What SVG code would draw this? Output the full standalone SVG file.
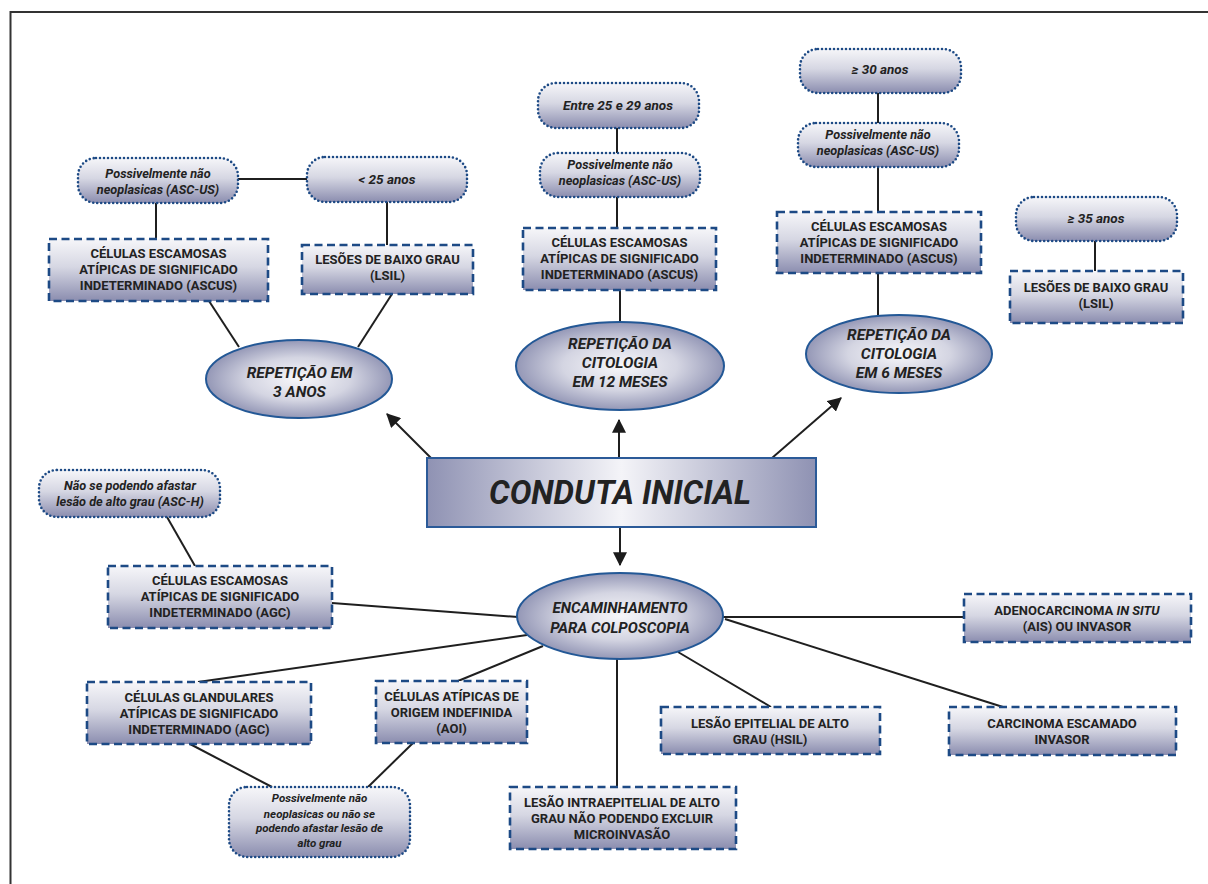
<svg xmlns="http://www.w3.org/2000/svg" width="1208" height="884" viewBox="0 0 1208 884">
<defs>
<linearGradient id="gv" x1="0" y1="0" x2="0" y2="1">
<stop offset="0" stop-color="#f6f6f9"/>
<stop offset="0.45" stop-color="#d6d7e3"/>
<stop offset="1" stop-color="#8b8daf"/>
</linearGradient>
<linearGradient id="gh" x1="0" y1="0" x2="1" y2="0">
<stop offset="0" stop-color="#8f92b3"/>
<stop offset="0.5" stop-color="#f4f4f8"/>
<stop offset="1" stop-color="#8f92b3"/>
</linearGradient>
<radialGradient id="gr" cx="0.5" cy="0.5" r="0.5">
<stop offset="0" stop-color="#f7f7fa"/>
<stop offset="0.55" stop-color="#d4d5e2"/>
<stop offset="1" stop-color="#9497b6"/>
</radialGradient>
<marker id="ah" viewBox="0 0 12 12" refX="11" refY="6" markerWidth="14" markerHeight="14" markerUnits="userSpaceOnUse" orient="auto">
<path d="M0,0 L12,6 L0,12 z" fill="#1c1c1c"/>
</marker>
<style>
.box{fill:url(#gv);stroke:#1d4a85;stroke-width:2.6;stroke-dasharray:8 4.5}
.pill{fill:url(#gv);stroke:#1d4a85;stroke-width:2.6;stroke-dasharray:0 4;stroke-linecap:round}
.ell{fill:url(#gr);stroke:#235896;stroke-width:2}
.main{fill:url(#gh);stroke:#2b5a98;stroke-width:2}
.ln{stroke:#1f1f1f;stroke-width:2;fill:none}
.arr{stroke:#1f1f1f;stroke-width:2;fill:none;marker-end:url(#ah)}
text{font-family:Roboto,"Liberation Sans",sans-serif;fill:#222;text-anchor:middle}
.tb{font-weight:bold;font-size:13px}
.ti{font-weight:bold;font-style:italic;font-size:12.7px}
.ta{font-weight:bold;font-style:italic;font-size:13.5px}
.ts{font-weight:bold;font-style:italic;font-size:11.5px}
.te{font-weight:bold;font-style:italic;font-size:15.5px}
.tm{font-weight:bold;font-style:italic;font-size:32.5px}
</style>
</defs>
<rect x="0" y="0" width="1208" height="884" fill="#ffffff"/>
<path d="M1210,12 H10.5 V886" fill="none" stroke="#333" stroke-width="2"/>

<g id="connectors">
<line class="ln" x1="238" y1="179" x2="307" y2="179"/>
<line class="ln" x1="156" y1="203" x2="156" y2="239"/>
<line class="ln" x1="387" y1="202" x2="387" y2="245"/>
<line class="ln" x1="209" y1="301" x2="239" y2="347"/>
<line class="ln" x1="392" y1="294" x2="358" y2="347"/>
<line class="ln" x1="617" y1="128" x2="617" y2="153"/>
<line class="ln" x1="617" y1="197" x2="617" y2="228"/>
<line class="ln" x1="620" y1="290" x2="620" y2="323"/>
<line class="ln" x1="878" y1="93" x2="878" y2="123"/>
<line class="ln" x1="878" y1="167" x2="878" y2="212"/>
<line class="ln" x1="878" y1="273" x2="878" y2="316"/>
<line class="ln" x1="1095" y1="241" x2="1095" y2="271"/>
<line class="arr" x1="431" y1="458" x2="387" y2="414"/>
<line class="arr" x1="619" y1="458" x2="619" y2="420"/>
<line class="arr" x1="772" y1="458" x2="841" y2="398"/>
<line class="arr" x1="620" y1="527" x2="620" y2="565"/>
<line class="ln" x1="167" y1="517" x2="195" y2="566"/>
<line class="ln" x1="332" y1="603" x2="518" y2="617"/>
<line class="ln" x1="527" y1="635" x2="198" y2="682"/>
<line class="ln" x1="543" y1="646" x2="458" y2="681"/>
<line class="ln" x1="190" y1="744" x2="272" y2="787"/>
<line class="ln" x1="413" y1="743" x2="368" y2="787"/>
<line class="ln" x1="617" y1="659" x2="617" y2="787"/>
<line class="ln" x1="678" y1="652" x2="771" y2="707"/>
<line class="ln" x1="723" y1="617" x2="964" y2="617"/>
<line class="ln" x1="725" y1="619" x2="1003" y2="707"/>
</g>

<g id="n-ascus-young">
<rect class="pill" x="78" y="158" width="160" height="45" rx="18"/>
<text class="ti" x="158" y="177.5">Possivelmente não</text>
<text class="ti" x="158" y="193.5">neoplasicas (ASC-US)</text>
</g>
<g id="n-lt25">
<rect class="pill" x="307" y="157" width="160" height="45" rx="18"/>
<text class="ta" x="387" y="184">&lt; 25 anos</text>
</g>
<g id="n-ascus-left">
<rect class="box" x="49" y="239" width="219" height="62"/>
<text class="tb" x="158.5" y="258">CÉLULAS ESCAMOSAS</text>
<text class="tb" x="158.5" y="274">ATÍPICAS DE SIGNIFICADO</text>
<text class="tb" x="158.5" y="290">INDETERMINADO (ASCUS)</text>
</g>
<g id="n-lsil-left">
<rect class="box" x="302" y="245" width="171" height="49"/>
<text class="tb" x="387.5" y="264">LESÕES DE BAIXO GRAU</text>
<text class="tb" x="387.5" y="280">(LSIL)</text>
</g>
<g id="n-rep3">
<ellipse class="ell" cx="299" cy="379" rx="93" ry="39"/>
<text class="te" x="299.5" y="377.5">REPETIÇÃO EM</text>
<text class="te" x="299.5" y="396.5">3 ANOS</text>
</g>

<g id="n-25-29">
<rect class="pill" x="538" y="83" width="161" height="45" rx="18"/>
<text class="ta" x="618" y="110">Entre 25 e 29 anos</text>
</g>
<g id="n-ascus-mid-pill">
<rect class="pill" x="540" y="153" width="160" height="44" rx="18"/>
<text class="ti" x="620" y="169">Possivelmente não</text>
<text class="ti" x="620" y="185">neoplasicas (ASC-US)</text>
</g>
<g id="n-ascus-mid">
<rect class="box" x="523" y="228" width="193" height="62"/>
<text class="tb" x="619.5" y="246.5">CÉLULAS ESCAMOSAS</text>
<text class="tb" x="619.5" y="262.5">ATÍPICAS DE SIGNIFICADO</text>
<text class="tb" x="619.5" y="278.5">INDETERMINADO (ASCUS)</text>
</g>
<g id="n-rep12">
<ellipse class="ell" cx="620" cy="366" rx="104" ry="44"/>
<text class="te" x="620" y="348.5">REPETIÇÃO DA</text>
<text class="te" x="620" y="367.5">CITOLOGIA</text>
<text class="te" x="620" y="386.5">EM 12 MESES</text>
</g>

<g id="n-ge30">
<rect class="pill" x="800" y="49" width="161" height="44" rx="18"/>
<text class="ta" x="880" y="74">≥ 30 anos</text>
</g>
<g id="n-ascus-right-pill">
<rect class="pill" x="798" y="123" width="161" height="44" rx="18"/>
<text class="ti" x="878" y="138.5">Possivelmente não</text>
<text class="ti" x="878" y="154.5">neoplasicas (ASC-US)</text>
</g>
<g id="n-ascus-right">
<rect class="box" x="777" y="212" width="204" height="61"/>
<text class="tb" x="879" y="230.5">CÉLULAS ESCAMOSAS</text>
<text class="tb" x="879" y="246.5">ATÍPICAS DE SIGNIFICADO</text>
<text class="tb" x="879" y="262.5">INDETERMINADO (ASCUS)</text>
</g>
<g id="n-rep6">
<ellipse class="ell" cx="899" cy="354" rx="93" ry="39"/>
<text class="te" x="899" y="339.5">REPETIÇÃO DA</text>
<text class="te" x="899" y="358.5">CITOLOGIA</text>
<text class="te" x="899" y="377.5">EM 6 MESES</text>
</g>
<g id="n-ge35">
<rect class="pill" x="1016" y="197" width="161" height="44" rx="18"/>
<text class="ta" x="1096" y="223">≥ 35 anos</text>
</g>
<g id="n-lsil-right">
<rect class="box" x="1010" y="271" width="173" height="52"/>
<text class="tb" x="1096" y="291.5">LESÕES DE BAIXO GRAU</text>
<text class="tb" x="1096" y="307.5">(LSIL)</text>
</g>

<g id="n-conduta">
<rect class="main" x="427" y="458" width="389" height="69"/>
<text class="tm" x="620" y="504">CONDUTA INICIAL</text>
</g>
<g id="n-colpo">
<ellipse class="ell" cx="620" cy="616" rx="103" ry="43"/>
<text class="te" x="620" y="612.5" style="font-size:15px">ENCAMINHAMENTO</text>
<text class="te" x="620" y="632.5" style="font-size:15px">PARA COLPOSCOPIA</text>
</g>

<g id="n-asch">
<rect class="pill" x="39" y="470" width="181" height="47" rx="18"/>
<text class="ti" x="130" y="489.5">Não se podendo afastar</text>
<text class="ti" x="130" y="506">lesão de alto grau (ASC-H)</text>
</g>
<g id="n-agc-esc">
<rect class="box" x="108" y="566" width="224" height="62"/>
<text class="tb" x="220" y="584.5">CÉLULAS ESCAMOSAS</text>
<text class="tb" x="220" y="600.5">ATÍPICAS DE SIGNIFICADO</text>
<text class="tb" x="220" y="616.5">INDETERMINADO (AGC)</text>
</g>
<g id="n-agc-gland">
<rect class="box" x="87" y="682" width="224" height="62"/>
<text class="tb" x="199" y="701.5">CÉLULAS GLANDULARES</text>
<text class="tb" x="199" y="717.5">ATÍPICAS DE SIGNIFICADO</text>
<text class="tb" x="199" y="733.5">INDETERMINADO (AGC)</text>
</g>
<g id="n-aoi">
<rect class="box" x="376" y="681" width="151" height="62"/>
<text class="tb" x="451.5" y="700.5">CÉLULAS ATÍPICAS DE</text>
<text class="tb" x="451.5" y="716.5">ORIGEM INDEFINIDA</text>
<text class="tb" x="451.5" y="732.5">(AOI)</text>
</g>
<g id="n-poss-bottom">
<rect class="pill" x="229" y="787" width="181" height="70" rx="18"/>
<text class="ts" x="319.5" y="802">Possivelmente não</text>
<text class="ts" x="319.5" y="818">neoplasicas ou não se</text>
<text class="ts" x="319.5" y="832">podendo afastar lesão de</text>
<text class="ts" x="319.5" y="846.5">alto grau</text>
</g>
<g id="n-lesao-micro">
<rect class="box" x="510" y="787" width="226" height="62"/>
<text class="tb" x="622" y="806.5">LESÃO INTRAEPITELIAL DE ALTO</text>
<text class="tb" x="622" y="822.5">GRAU NÃO PODENDO EXCLUIR</text>
<text class="tb" x="622" y="838.5">MICROINVASÃO</text>
</g>
<g id="n-hsil">
<rect class="box" x="661" y="707" width="219" height="47"/>
<text class="tb" x="770" y="728">LESÃO EPITELIAL DE ALTO</text>
<text class="tb" x="770" y="744">GRAU (HSIL)</text>
</g>
<g id="n-ais">
<rect class="box" x="964" y="594" width="227" height="48"/>
<text class="tb" x="1077" y="615">ADENOCARCINOMA <tspan font-style="italic">IN SITU</tspan></text>
<text class="tb" x="1077" y="631">(AIS) OU INVASOR</text>
</g>
<g id="n-carcinoma">
<rect class="box" x="949" y="707" width="227" height="48"/>
<text class="tb" x="1062" y="728">CARCINOMA ESCAMADO</text>
<text class="tb" x="1062" y="744">INVASOR</text>
</g>
</svg>
